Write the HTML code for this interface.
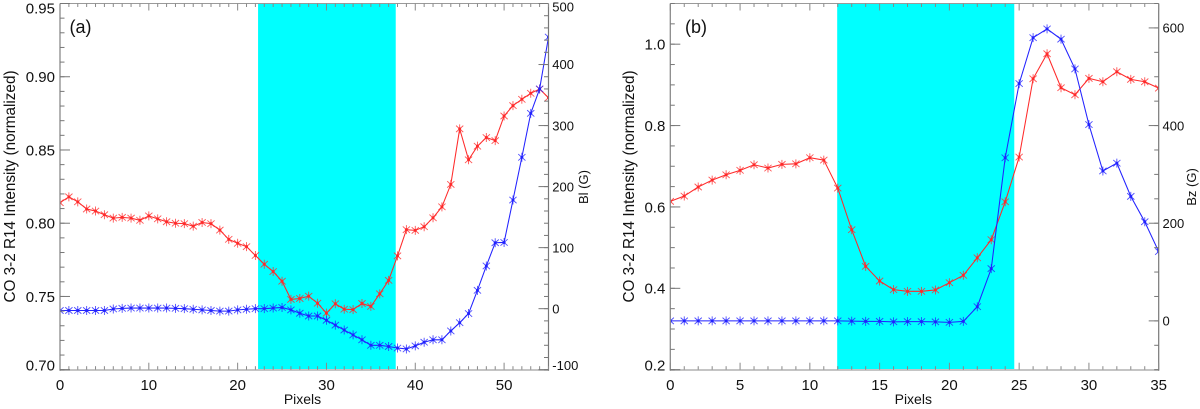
<!DOCTYPE html>
<html>
<head>
<meta charset="utf-8">
<title>CO 3-2 R14 intensity and magnetic field profiles</title>
<style>
html,body{margin:0;padding:0;background:#fff;}
#figure{display:block;width:1200px;height:409px;font-family:"Liberation Sans",Arial,sans-serif;fill:#111;}
</style>
</head>
<body>
<svg id="figure" xmlns="http://www.w3.org/2000/svg" width="1200" height="409" viewBox="0 0 1200 409"></svg>
<script>
/* Panel (a) data */
var panelAIntensity = [0.814,0.818,0.8146,0.8097,0.8083,0.8058,0.8035,0.804,0.8035,0.802,0.805,0.803,0.801,0.8,0.7997,0.798,0.8005,0.7997,0.7953,0.789,0.7863,0.784,0.778,0.772,0.767,0.7604,0.748,0.7486,0.7502,0.7454,0.7386,0.745,0.7413,0.741,0.7452,0.7432,0.7518,0.761,0.7777,0.7956,0.7951,0.7976,0.8037,0.8112,0.8265,0.8644,0.8433,0.8526,0.8585,0.8564,0.8732,0.8803,0.8846,0.8887,0.8916,0.8857];
var panelAField = [-3,-3,-3,-3,-3,-3,-0.5,0.5,1,1,1,1,1,0.5,0,-1,-2,-3,-4,-4,-2,-1,0,0,1,2,-2,-7.5,-12,-12,-19,-27,-35,-43,-51,-60,-60,-62,-64.5,-66,-61,-55,-51,-51,-36.5,-23,-8,30,70,108,108.5,178,248,320,360,445];
var panelABand = [22.3,37.8];
var panelAXTicks = [0,10,20,30,40,50];
var panelAYTicks = [0.70,0.75,0.80,0.85,0.90,0.95];
var panelARightTicks = [-100,0,100,200,300,400,500];

/* Panel (b) data */
var panelBIntensity = [0.6137,0.6268,0.649,0.666,0.679,0.69,0.7037,0.6956,0.7046,0.706,0.721,0.7152,0.6464,0.544,0.454,0.418,0.3967,0.3926,0.3926,0.396,0.4138,0.432,0.475,0.5195,0.6127,0.7226,0.915,0.9765,0.893,0.8757,0.916,0.9077,0.9323,0.9135,0.9077,0.892];
var panelBField = [0,0,0,0,0,0,0,0,0,0,0,0,0,-0.5,-1,-1,-2,-1.5,-1.5,-2,-3,-1,29,107,334,486,580,598,577,516,402,307,323,255,203,142];
var panelBBand = [11.96,24.65];
var panelBXTicks = [0,5,10,15,20,25,30,35];
var panelBYTicks = [0.2,0.4,0.6,0.8,1.0];
var panelBRightTicks = [0,200,400,600];

var svgNS = "http://www.w3.org/2000/svg";
var root = document.getElementById("figure");

function mk(tag, attrs, parent) {
  var n = document.createElementNS(svgNS, tag);
  for (var k in attrs) { n.setAttribute(k, attrs[k]); }
  parent.appendChild(n);
  return n;
}

function drawLine(values, xs, ys, color, name, parent, clipId) {
  var group = mk("g", {"clip-path": "url(#" + clipId + ")"}, parent);
  
  
  var pts = values.map(function (v, i) { return xs(i).toFixed(2) + "," + ys(v).toFixed(2); }).join(" ");
  var line = mk("polyline", {points: pts, fill: "none", stroke: color, "stroke-width": 1.05}, group);
  
  
  values.forEach(function (v, i) {
    var cx = xs(i), cy = ys(v), r = 4.5, dx = r * 0.8, dy = r * 0.72;
    var d = "M" + cx + " " + (cy - r) + "V" + (cy + r) +
            "M" + (cx - dx) + " " + (cy - dy) + "L" + (cx + dx) + " " + (cy + dy) +
            "M" + (cx - dx) + " " + (cy + dy) + "L" + (cx + dx) + " " + (cy - dy);
    var star = mk("path", {d: d, stroke: color, "stroke-width": 0.9, "stroke-opacity": 0.8, fill: "none"}, group);
    
    
    var dot = mk("circle", {cx: cx, cy: cy, r: 1.5, fill: color}, group);
    
    
  });
}

function tick(x1, y1, x2, y2, color, parent, name) {
  var t = mk("line", {x1: x1, y1: y1, x2: x2, y2: y2, stroke: color, "stroke-width": 1}, parent);
  
  
}

function label(x, y, str, size, anchor, parent, name, rotate) {
  var attrs = {x: x, y: y, "font-size": size, "text-anchor": anchor};
  if (rotate) { attrs.transform = "rotate(-90 " + x + " " + y + ")"; }
  var t = mk("text", attrs, parent);
  t.textContent = str;
  
  
}

function drawPanel(p) {
  var g = mk("g", {}, root);
  
  

  var xs = function (v) { return p.left + (v - p.xMin) / (p.xMax - p.xMin) * (p.right - p.left); };
  var ys = function (v) { return p.bottom - (v - p.yMin) / (p.yMax - p.yMin) * (p.bottom - p.top); };
  var ys2 = function (v) { return p.bottom - (v - p.y2Min) / (p.y2Max - p.y2Min) * (p.bottom - p.top); };

  var clipId = "plot-clip-" + p.id;
  var clip = mk("clipPath", {id: clipId}, g);
  mk("rect", {x: p.left, y: p.top, width: p.right - p.left, height: p.bottom - p.top}, clip);

  var band = mk("rect", {x: xs(p.band[0]), y: p.top, width: xs(p.band[1]) - xs(p.band[0]), height: p.bottom - p.top, fill: "#00ffff"}, g);
  
  

  drawLine(p.intensity, xs, ys, "#ff2a2a", "intensity", g, clipId);
  drawLine(p.field, xs, ys2, "#2222ff", "magnetic-field", g, clipId);

  /* frame */
  tick(p.left, p.top, p.right, p.top, "#9a9a9a", g, "top-axis");
  var bottomAxis = mk("line", {x1: p.left, y1: p.bottom + 0.3, x2: p.right, y2: p.bottom + 0.3, stroke: "#c4c4c4", "stroke-width": 2}, g);
  
  
  var leftAxis = mk("line", {x1: p.left, y1: p.top, x2: p.left, y2: p.bottom + 1, stroke: "#8a8a8a", "stroke-width": 1.3}, g);
  
  
  var rightAxis = mk("line", {x1: p.right, y1: p.top, x2: p.right, y2: p.bottom + 1, stroke: "#777", "stroke-width": 1.2}, g);
  
  

  /* x ticks */
  var i, v;
  for (i = p.xMin; i <= p.xMax; i += 1) {
    var major = p.xTicks.indexOf(i) >= 0;
    var len = major ? 7 : 3.5;
    tick(xs(i), p.bottom, xs(i), p.bottom - len, "#888", g, "x-tick");
    tick(xs(i), p.top, xs(i), p.top + len, "#888", g, "top-tick");
  }
  p.xTicks.forEach(function (t) {
    label(xs(t), 390, String(t), 15, "middle", g, "x-tick-label");
  });

  /* left y ticks */
  var steps = Math.round((p.yMax - p.yMin) / p.yMinor);
  for (i = 0; i <= steps; i++) {
    v = p.yMin + i * p.yMinor;
    tick(p.left, ys(v), p.left + 4.5, ys(v), "#777", g, "left-minor-tick");
  }
  p.yTicks.forEach(function (t) {
    tick(p.left, ys(t), p.left + 10, ys(t), "#777", g, "left-major-tick");
    var cy = Math.min(365, Math.max(8, ys(t)));
    label(p.left - 5, cy + 5.4, t.toFixed(p.yDigits), 15, "end", g, "left-tick-label");
  });

  /* right y ticks */
  var steps2 = Math.round((p.y2Max - p.y2Min) / p.y2Minor);
  for (i = 0; i <= steps2; i++) {
    v = p.y2Min + i * p.y2Minor;
    tick(p.right - 4.5, ys2(v), p.right, ys2(v), "#777", g, "right-minor-tick");
  }
  p.rightTicks.forEach(function (t) {
    tick(p.right - 10, ys2(t), p.right, ys2(t), "#777", g, "right-major-tick");
    var cy = Math.min(365.5, Math.max(7, ys2(t)));
    label(p.right + 3.8, cy + 4.7, String(t), 13, "start", g, "right-tick-label");
  });

  /* titles */
  label(p.left + p.xTitleOffset, 404, "Pixels", 14, "middle", g, "x-axis-title");
  label(p.leftTitleX, 186.5, "CO 3-2 R14 Intensity (normalized)", 15.3, "middle", g, "left-y-axis-title", true);
  label(p.rightTitleX, 187, p.rightTitle, 13, "middle", g, "right-y-axis-title", true);
  label(p.tagX, 33, p.tag, 18, "start", g, "panel-label");
}

drawPanel({
  id: "a", tag: "(a)", tagX: 69.5, left: 60, right: 548.5, top: 3.5, bottom: 369.7,
  xMin: 0, xMax: 55, yMin: 0.70, yMax: 0.95, yMinor: 0.01, yDigits: 2,
  y2Min: -100, y2Max: 500, y2Minor: 20,
  band: panelABand, intensity: panelAIntensity, field: panelAField,
  xTicks: panelAXTicks, yTicks: panelAYTicks, rightTicks: panelARightTicks,
  xTitleOffset: 242.5, leftTitleX: 15, rightTitle: "Bl (G)", rightTitleX: 588
});

drawPanel({
  id: "b", tag: "(b)", tagX: 685, left: 670.3, right: 1158.7, top: 3.5, bottom: 369.7,
  xMin: 0, xMax: 35, yMin: 0.2, yMax: 1.1, yMinor: 0.05, yDigits: 1,
  y2Min: -100, y2Max: 650, y2Minor: 50,
  band: panelBBand, intensity: panelBIntensity, field: panelBField,
  xTicks: panelBXTicks, yTicks: panelBYTicks, rightTicks: panelBRightTicks,
  xTitleOffset: 243, leftTitleX: 634, rightTitle: "Bz (G)", rightTitleX: 1196
});
</script>
</body>
</html>
